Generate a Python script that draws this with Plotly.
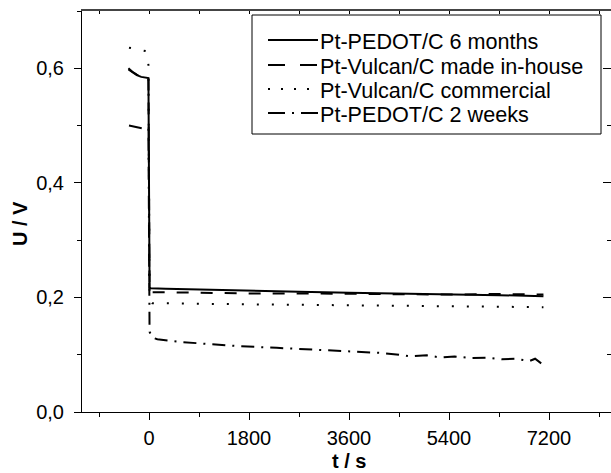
import plotly.graph_objects as go

# ---------------- data ----------------
t_6m = [-370, -300, -220, -140, -60, -10, 10, 30, 300, 900, 1800, 2700, 3600, 4500, 5400, 6300, 7100]
u_6m = [0.598, 0.593, 0.588, 0.585, 0.584, 0.583, 0.217, 0.216, 0.215, 0.214, 0.212, 0.210, 0.208, 0.207, 0.205, 0.204, 0.202]

t_inh = [-370, -300, -220, -140, -60, -10, 10, 40, 300, 900, 1800, 2700, 3600, 4500, 5400, 6300, 7100]
u_inh = [0.600, 0.594, 0.589, 0.586, 0.585, 0.585, 0.212, 0.209, 0.209, 0.208, 0.207, 0.207, 0.206, 0.206, 0.205, 0.206, 0.205]

t_com = [-360, -200, -60, -10, 10, 60, 300, 900, 1800, 2700, 3600, 4500, 5400, 6300, 7100]
u_com = [0.636, 0.633, 0.630, 0.606, 0.195, 0.190, 0.190, 0.189, 0.188, 0.187, 0.186, 0.185, 0.185, 0.184, 0.183]

t_2w = [-360, -250, -108, -10, 10, 60, 150, 600, 1000, 1600, 2300, 3000, 3600, 4200, 4500, 4700, 5000,
        5250, 5500, 5800, 6100, 6350, 6600, 6850, 6950, 7050, 7100]
u_2w = [0.500, 0.498, 0.495, 0.495, 0.140, 0.130, 0.127, 0.122, 0.119, 0.115, 0.112, 0.109, 0.106, 0.103, 0.100, 0.097, 0.099,
        0.095, 0.097, 0.094, 0.095, 0.092, 0.093, 0.089, 0.093, 0.086, 0.082]

names = ["Pt-PEDOT/C 6 months", "Pt-Vulcan/C made in-house", "Pt-Vulcan/C commercial", "Pt-PEDOT/C 2 weeks"]

x_ticks = [0, 1800, 3600, 5400, 7200]
x_tick_labels = ["0", "1800", "3600", "5400", "7200"]
y_ticks = [0.0, 0.2, 0.4, 0.6]
y_tick_labels = ["0,0", "0,2", "0,4", "0,6"]

x_range = [-1206, 8316]
y_range = [0, 0.7]

# ---------------- layout geometry ----------------
W, H = 611, 473
ML, MR, MT, MB = 82, 0, 11, 61
PW, PH = W - ML - MR, H - MT - MB


def px_x(p):
    return (p - ML) / PW


def px_y(p):
    return (H - MB - p) / PH


FONT = "Liberation Sans, Arial, sans-serif"
fig = go.Figure()
plot_dash = ["solid", "12px,12px", "2px,13px", "13px,7px,2px,7px"]
legend_dash = ["solid", "17px,15px", "2px,11px", "17px,7px,2px,7px"]

for tt, uu, nm, ds in zip([t_6m, t_inh, t_com, t_2w], [u_6m, u_inh, u_com, u_2w], names, plot_dash):
    fig.add_trace(go.Scatter(x=tt, y=uu, mode="lines", name=nm, showlegend=False,
                             line=dict(color="black", width=2, dash=ds), hoverinfo="skip"))

# invisible trace for mirrored axes
fig.add_trace(go.Scatter(x=[x_range[0]], y=[y_range[0]], xaxis="x2", yaxis="y2", mode="markers",
                         marker=dict(opacity=0), showlegend=False, hoverinfo="skip"))

# manual legend (box, line samples, texts)
shapes = [dict(type="rect", xref="paper", yref="paper", x0=px_x(252), x1=px_x(601), y0=px_y(15), y1=px_y(134),
               line=dict(color="black", width=1), fillcolor="white", layer="above")]
annotations = []
rows = [40, 65, 89, 113]
for nm, ds, ry in zip(names, legend_dash, rows):
    shapes.append(dict(type="line", xref="paper", yref="paper", x0=px_x(268), x1=px_x(318),
                       y0=px_y(ry), y1=px_y(ry), line=dict(color="black", width=2, dash=ds), layer="above"))
    annotations.append(dict(text=nm, x=px_x(318), y=px_y(ry + 1), xref="paper", yref="paper", showarrow=False,
                            xanchor="left", yanchor="middle", font=dict(family=FONT, size=21.6, color="black")))

annotations += [
    dict(text="<b>U / V</b>", x=px_x(20), y=px_y(224), xref="paper", yref="paper", showarrow=False,
         xanchor="center", yanchor="middle", textangle=-90, font=dict(family=FONT, size=20, color="black")),
    dict(text="<b>t / s</b>", x=px_x(349), y=px_y(461), xref="paper", yref="paper", showarrow=False,
         xanchor="center", yanchor="middle", font=dict(family=FONT, size=20, color="black")),
]

fig.update_layout(
    width=W, height=H,
    margin=dict(l=ML, r=MR, t=MT, b=MB),
    paper_bgcolor="white", plot_bgcolor="white",
    font=dict(family=FONT, size=20, color="black"),
    showlegend=False,
    xaxis=dict(range=x_range, showgrid=False, zeroline=False, showline=True, linecolor="black", linewidth=1,
               ticks="outside", ticklen=7, tickcolor="black", tickvals=x_ticks, ticktext=x_tick_labels,
               minor=dict(dtick=900, tick0=0, ticks="outside", ticklen=4, tickcolor="black"),
               tickfont=dict(size=20), ticklabelstandoff=1, anchor="y"),
    yaxis=dict(range=y_range, showgrid=False, zeroline=False, showline=True, linecolor="black", linewidth=1,
               ticks="outside", ticklen=7, tickcolor="black", tickvals=y_ticks, ticktext=y_tick_labels,
               minor=dict(dtick=0.1, tick0=0, ticks="outside", ticklen=4, tickcolor="black"),
               tickfont=dict(size=20), ticklabelstandoff=6, anchor="x"),
    xaxis2=dict(range=x_range, overlaying="x", side="top", anchor="y", showgrid=False, zeroline=False,
                showline=True, linecolor="#444", linewidth=1.5, ticks="inside", ticklen=3, tickcolor="black",
                dtick=900, tick0=0, showticklabels=False),
    yaxis2=dict(range=y_range, overlaying="y", side="right", anchor="x", showgrid=False, zeroline=False,
                showline=False, ticks="inside", ticklen=8, tickcolor="black", tickvals=y_ticks,
                minor=dict(dtick=0.1, tick0=0, ticks="inside", ticklen=4, tickcolor="black"),
                showticklabels=False),
    shapes=shapes,
    annotations=annotations,
)

fig.write_html("out.html")
